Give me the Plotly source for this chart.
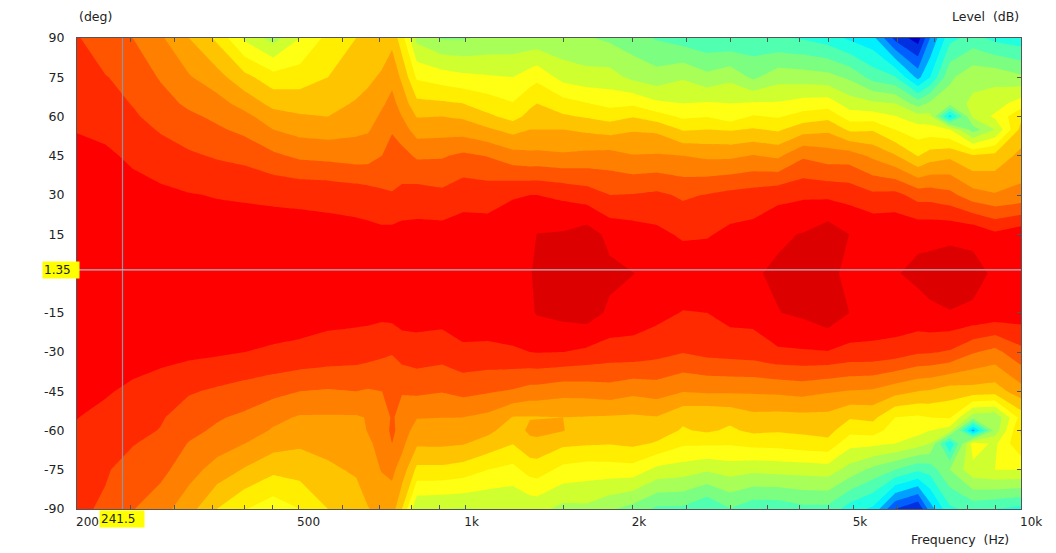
import numpy as np
import plotly.graph_objects as go

# Frequency of each measured column (Hz)
freqs = [200,225,252,283,318,357,401,451,504,566,636,668,708,738,769,818,908,990,1098,1218,1307,1346,1499,1655,1821,2003,2212,2464,2722,2994,3294,3652,4051,4494,4923,5416,5933,6525,6860,7448,8196,8980,10000]
# Polar angle of each row (deg), top to bottom
angles = [90,75,65,60,55,45,30,15,0,-15,-30,-45,-55,-60,-65,-75,-90]

# Attenuation class per frequency column, one value per angle (0 = hottest band)
columns = [
[2.9,2.55,2.35,2.25,2.05,1.7,1.35,1.2,1.2, 1.2,1.4,1.75,1.98,2.1,2.23,2.5,2.8],
[3.7,2.95,2.6,2.4,2.2,1.85,1.5,1.3,1.25, 1.3,1.55,1.9,2.25,2.4,2.55,2.9,3.15],
[4.0,3.35,3.05,2.85,2.6,2.15,1.7,1.4,1.3, 1.4,1.55,2.2,2.55,2.7,2.95,3.4,3.95],
[4.85,4.1,3.6,3.4,3.1,2.5,1.8,1.45,1.3, 1.4,1.65,2.5,2.9,3.05,3.3,3.7,4.6],
[6.0,4.9,4.2,3.8,3.5,2.85,1.95,1.5,1.35, 1.45,1.75,2.9,3.5,3.75,4.05,4.6,5.6],
[7.2,5.6,4.6,4.2,3.85,3.1,2.05,1.55,1.4, 1.5,1.85,3.15,3.9,4.15,4.55,5.4,7.0],
[9.2,6.7,5.4,4.7,4.25,3.3,2.1,1.6,1.4, 1.6,2.0,3.4,4.2,4.5,5.0,6.1,7.95],
[10.4,7.6,6.3,5.6,5.0,3.8,2.15,1.65,1.4, 1.6,2.1,3.7,4.75,5.1,5.6,6.75,8.6],
[9.0,7.5,6.4,5.9,5.35,4.2,2.2,1.65,1.4, 1.6,2.2,4.0,5.1,5.45,5.85,6.6,8.0],
[7.7,7.0,6.35,6.0,5.45,4.3,2.25,1.7,1.45, 1.7,2.35,4.1,5.1,5.4,5.65,6.2,7.0],
[7.0,6.5,5.9,5.6,5.2,4.46,2.4,1.7,1.4, 1.7,2.5,4.0,5.1,5.35,5.55,5.85,6.6],
[6.85,6.2,5.7,5.45,5.1,4.4,2.55,1.7,1.4, 1.7,2.6,4.1,4.95,4.95,5.15,5.35,6.05],
[6.6,5.85,5.15,4.8,4.55,4.0,2.8,1.75,1.4, 1.75,2.8,4.0,4.5,4.6,4.7,4.95,5.6],
[6.3,5.3,4.7,4.4,4.1,3.5,2.95,1.7,1.4, 1.65,2.95,3.6,3.9,3.75,4.0,4.8,5.5],
[7.6,6.2,5.4,5.0,4.55,3.65,2.75,1.6,1.3, 1.55,2.55,3.95,4.3,4.5,4.75,5.4,7.0],
[10.3,8.15,6.75,6.05,5.45,4.15,2.55,1.65,1.3, 1.6,2.4,3.8,4.95,5.4,5.85,7.25,9.9],
[11.1,8.5,6.85,6.0,5.4,4.1,2.75,1.6,1.3, 1.6,2.55,3.95,4.99,5.4,5.83,7.25,10.0],
[11.1,8.75,7.0,6.15,5.45,3.8,2.35,1.55,1.3, 1.4,2.2,3.7,5.0,5.47,5.93,7.45,10.05],
[10.8,8.9,7.5,6.8,5.85,4.05,2.4,1.55,1.3, 1.35,2.25,3.9,5.25,5.75,6.4,8.0,10.0],
[10.7,9.0,7.95,7.35,6.35,4.6,2.1,1.25,1.1, 1.2,2.15,4.1,6.05,6.5,6.97,8.3,10.0],
[10.7,8.5,7.2,6.7,6.0,4.75,2.0,1.2,1.1, 1.15,2.0,4.4,6.05,5.8,6.3,7.6,9.75],
[10.7,8.25,7.0,6.6,6.0,4.73,2.0,0.98,0.7, 0.93,1.95,4.4,6.05,5.7,6.3,7.5,9.7],
[10.8,9.35,7.6,6.85,6.0,4.85,2.2,0.9,0.6, 0.7,2.0,4.65,6.0,5.95,6.8,8.3,10.3],
[10.9,9.65,7.95,7.1,6.2,4.7,2.5,0.5,0.6, 0.5,2.2,4.6,6.05,6.6,6.9,8.5,10.25],
[11.2,9.6,8.3,7.4,6.4,4.6,3.0,1.3,0.75, 1.2,2.45,4.45,6.1,6.5,6.95,8.45,10.85],
[11.6,10.25,8.2,7.05,6.1,4.95,2.95,1.5,0.98, 1.45,2.4,4.75,6.15,6.5,6.8,8.4,11.4],
[12.1,10.6,8.8,7.55,6.2,4.9,2.8,1.75,1.2, 1.7,2.65,4.55,6.05,6.55,7.1,9.3,12.2],
[12.5,10.1,9.0,8.2,7.1,5.0,3.15,2.15,1.3, 2.05,2.95,4.95,6.8,7.1,7.85,9.5,12.2],
[12.8,10.7,8.9,8.05,7.0,5.2,2.95,2.1,1.25, 2.0,2.7,4.85,6.9,6.85,7.85,9.85,13.0],
[12.9,10.25,9.0,8.6,7.1,5.2,2.7,1.75,1.2, 1.65,2.6,4.85,6.75,7.15,7.9,9.55,12.05],
[12.7,11.2,8.9,7.9,6.9,4.95,2.55,1.65,1.1, 1.65,2.5,4.85,6.3,6.8,7.7,9.75,12.7],
[12.9,10.4,8.9,8.1,7.15,5.2,2.3,1.15,0.85, 1.03,2.15,4.8,6.35,6.9,7.65,9.65,12.7],
[13.1,10.5,8.6,7.6,6.4,4.15,2.15,0.95,0.6, 0.8,2.1,4.65,6.3,6.8,7.45,9.6,12.3],
[13.5,10.65,8.5,7.3,6.2,4.5,2.2,0.4,0.85, 0.3,2.05,4.9,6.3,6.65,7.3,9.5,12.3],
[14.2,11.2,9.5,8.5,7.2,4.5,2.35,1.02,1.15, 1.02,2.3,5.05,6.9,7.7,8.7,10.4,13.5],
[14.7,12.4,9.8,8.5,7.1,5.2,2.8,1.1,1.05, 1.25,2.3,5.15,6.75,7.55,8.75,11.3,14.2],
[17.3,12.9,10.0,8.95,8.0,5.9,2.7,1.1,1.05, 1.25,2.45,5.6,8.0,8.5,9.0,12.0,17.0],
[18.5,15.3,11.5,9.6,8.6,7.05,3.4,1.15,0.85, 1.25,2.85,6.0,8.15,8.65,9.55,12.8,18.0],
[16.0,14.0,10.8,9.7,8.6,6.5,3.4,1.15,0.8, 1.1,2.9,6.1,8.0,9.0,10.0,12.6,15.5],
[13.3,11.2,10.5,14.5,9.0,6.2,3.7,1.1,0.75, 1.02,3.1,6.5,7.9,9.5,14.0,11.0,13.2],
[12.6,10.3,9.8,9.8,11.5,6.9,4.6,1.15,0.8, 1.1,3.9,6.4,10.6,15.5,8.5,9.3,12.7],
[13.3,10.3,9.5,8.8,10.0,6.7,4.9,1.8,1.1, 1.3,4.3,6.5,10.8,10.6,9.2,9.0,13.0],
[13.6,10.8,8.5,7.2,6.7,5.7,4.7,1.3,1.2, 1.45,3.3,5.4,7.6,6.9,7.1,9.0,13.3],
]

band_colors = ["#dd0000","#ff0000","#ff2a00","#ff5500","#ff8000","#ffa000","#ffc400","#ffee00",
               "#ffff14","#d0ff30","#a8ff58","#7cff80","#50ffb0","#20ffe0","#00f0ff","#00a0ff",
               "#0060ff","#0030e0","#0000c8"]

x_ticks = [200,250,300,350,400,450,500,600,700,800,900,1000,1500,2000,2500,3000,3500,4000,4500,5000,6000,7000,8000,9000,10000]
x_tick_labels = {200:"200",500:"500",1000:"1k",2000:"2k",5000:"5k",10000:"10k"}
y_ticks = [90,75,60,45,30,15,-15,-30,-45,-60,-75,-90]

cursor_freq = 241.5
cursor_angle = 1.35

FONT = "DejaVu Sans"
TXT = "#222222"
AX = "#555555"

z = np.array(columns, dtype=float).T[::-1]
y = angles[::-1]

N = len(band_colors)
cs = []
for k, c in enumerate(band_colors):
    lo = 0.0 if k == 0 else (k + 0.5 - 1) / N + 0.5 / N
    hi = 1.0 if k == N - 1 else (k + 0.5) / N + 0.5 / N
    cs.append([min(lo, 1.0), c])
    cs.append([min(hi, 1.0), c])

fig = go.Figure()
fig.add_trace(go.Contour(
    x=freqs, y=y, z=z,
    colorscale=cs, showscale=False, hoverinfo="skip",
    line=dict(width=0, smoothing=0),
    contours=dict(coloring="fill", showlines=False, start=0, end=N, size=1),
))
fig.add_trace(go.Scatter(x=[cursor_freq, cursor_freq], y=[-90, 90], mode="lines",
                         line=dict(color="#8c96a8", width=1.2), hoverinfo="skip", showlegend=False))
fig.add_trace(go.Scatter(x=[200, 10000], y=[cursor_angle, cursor_angle], mode="lines",
                         line=dict(color="#b4bac4", width=1.2), hoverinfo="skip", showlegend=False))
fig.add_trace(go.Scatter(x=[200], y=[0], yaxis="y2", mode="markers", marker=dict(opacity=0, size=1),
                         hoverinfo="skip", showlegend=False))

fig.update_layout(
    width=1056, height=553, autosize=False,
    margin=dict(l=77, r=35, t=38, b=44, autoexpand=False),
    paper_bgcolor="white", plot_bgcolor="white",
    font=dict(family=FONT, size=12.5, color=TXT),
    showlegend=False,
    xaxis=dict(type="log", range=[np.log10(200), 4], tickmode="array",
               tickvals=x_ticks, ticktext=[x_tick_labels.get(t, "") for t in x_ticks],
               ticks="inside", ticklen=4, tickcolor=AX, tickwidth=1,
               ticklabelposition="outside right", ticklabelstandoff=2, ticklabelshift=-2,
               tickfont=dict(size=12), automargin=False,
               showgrid=False, zeroline=False, showline=True, linecolor=AX, linewidth=1, mirror="ticks"),
    yaxis=dict(range=[-90, 90], tickmode="array", tickvals=y_ticks, ticktext=[str(v) for v in y_ticks],
               ticks="", ticklabelstandoff=9, automargin=False,
               showgrid=False, zeroline=False, showline=True, linecolor=AX, linewidth=1, mirror=True),
    yaxis2=dict(range=[-90, 90], overlaying="y", side="right", tickmode="array", tickvals=y_ticks,
                ticktext=["" for _ in y_ticks], ticks="inside", ticklen=4, tickcolor=AX, automargin=False,
                showgrid=False, zeroline=False, showline=False),
)
fig.add_annotation(text="(deg)", xref="paper", yref="paper", x=0, y=1, xanchor="left", yanchor="bottom",
                   yshift=12, showarrow=False)
fig.add_annotation(text="Level \u00a0(dB)", xref="paper", yref="paper", x=1, y=1, xanchor="right", yanchor="bottom",
                   yshift=12, showarrow=False)
fig.add_annotation(text="Frequency \u00a0(Hz)", xref="paper", yref="paper", x=0.9894, y=0, xanchor="right", yanchor="top",
                   yshift=-21, showarrow=False)
fig.add_annotation(text="1.35\u00a0\u00a0", xref="paper", yref="y", x=-0.0371, y=cursor_angle, xanchor="left", yanchor="middle",
                   bgcolor="#ffff00", showarrow=False, borderpad=1, font=dict(size=12))
fig.add_annotation(text="241.5\u00a0\u00a0", xref="paper", yref="paper", x=0.0228, y=0, xanchor="left", yanchor="top",
                   bgcolor="#ffff00", showarrow=False, borderpad=1, yshift=-1, font=dict(size=12))

fig.write_html("out.html", config={"displayModeBar": False},
               post_script="document.body.style.margin='0';document.body.style.overflow='hidden';")
